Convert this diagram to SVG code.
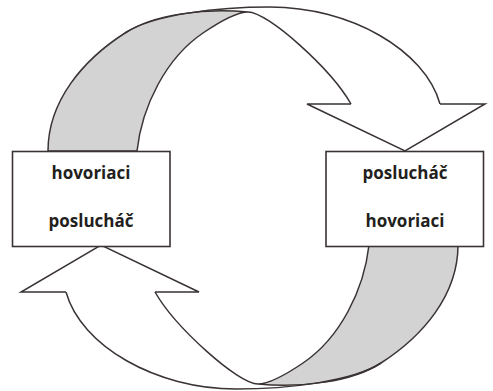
<svg xmlns="http://www.w3.org/2000/svg" width="493" height="391" viewBox="0 0 493 391">
  <style>
    .ln { fill: none; stroke: #3a3333; stroke-width: 1.5; stroke-linejoin: miter; }
    .back { fill: #d3d3d3; stroke: #3a3333; stroke-width: 1.5; }
    .head { fill: #ffffff; stroke: #3a3333; stroke-width: 1.5; stroke-linejoin: miter; }
    .box { fill: #ffffff; stroke: #3a3333; stroke-width: 1.6; }
    .lbl { font-family: "Open Sans", "Liberation Sans", sans-serif; font-weight: bold; font-size: 17px; fill: #231f20; text-anchor: middle; }
  </style>
  <defs>
    <g id="ribbon">
      <path class="back" d="M48,151 C48,101 83,60 125,33 C154,14 205,8 248,12 C235,12 217,23.5 203,33 C166,58 142,106 137,151 Z"/>
      <path class="ln" d="M125,33 C154,14 220,7 270,7 C350,7 425,50 440,104"/>
      <path class="ln" d="M248,12 C268,12 331,69 351,104"/>
      <path class="head" d="M351,104 L307,104 L405,151 L485,104 L440,104"/>
    </g>
  </defs>
  <g id="connectors">
    <use id="arrow-top" href="#ribbon"/>
    <use id="arrow-bottom" href="#ribbon" transform="rotate(180 253 198)"/>
  </g>
  <g id="node-left">
    <rect class="box" x="12.5" y="151.5" width="157.5" height="95"/>
    <text class="lbl" x="91" y="179">hovoriaci</text>
    <text class="lbl" x="91" y="227">poslucháč</text>
  </g>
  <g id="node-right">
    <rect class="box" x="326" y="151.5" width="157.5" height="95"/>
    <text class="lbl" x="405" y="179">poslucháč</text>
    <text class="lbl" x="405" y="227">hovoriaci</text>
  </g>
</svg>
